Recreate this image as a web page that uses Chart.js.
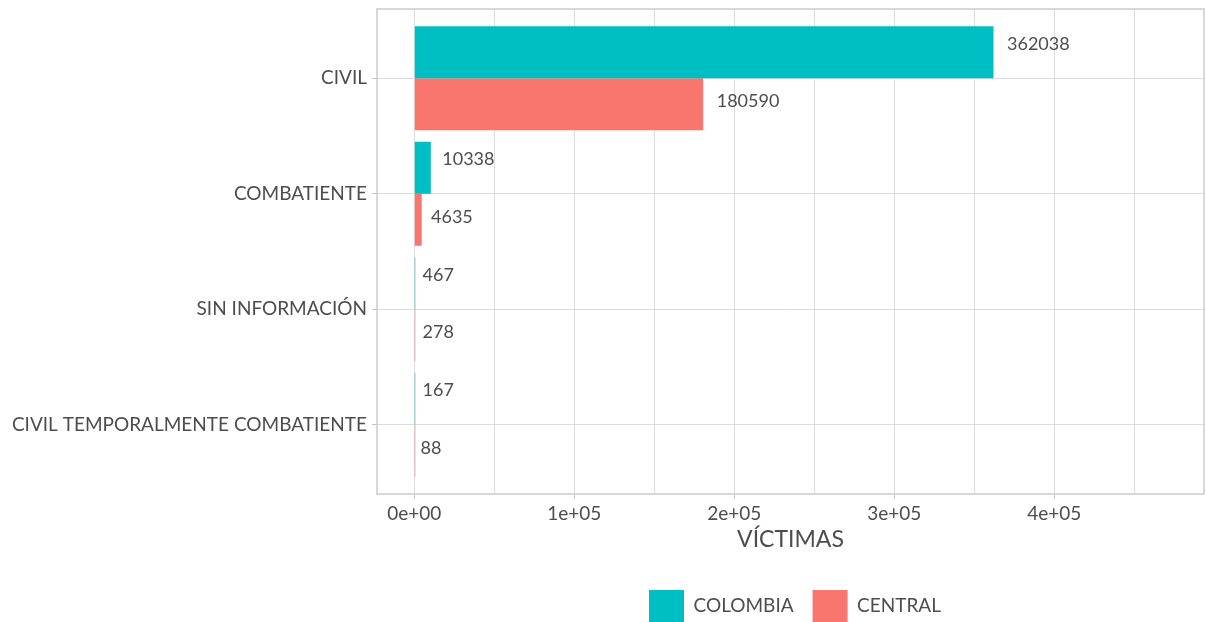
<!DOCTYPE html>
<html>
<head>
<meta charset="utf-8">
<script src="https://cdn.jsdelivr.net/npm/chart.js@4.4.1/dist/chart.umd.min.js"></script>
<style>
  html, body { margin: 0; padding: 0; background: #ffffff; overflow: hidden; }
  #wrap { width: 1206px; height: 622px; position: relative; }
</style>
</head>
<body>
<div id="wrap"><canvas id="c" width="1206" height="622"></canvas></div>
<script>
const categories = ['CIVIL', 'COMBATIENTE', 'SIN INFORMACIÓN', 'CIVIL TEMPORALMENTE COMBATIENTE'];
const seriesNames = ['COLOMBIA', 'CENTRAL'];
const colombia = [362038, 10338, 467, 167];
const central = [180590, 4635, 278, 88];
const xTickValues = [0, 50000, 100000, 150000, 200000, 250000, 300000, 350000, 400000, 450000];
const xTickLabels = ['0e+00', '', '1e+05', '', '2e+05', '', '3e+05', '', '4e+05', ''];
const xTitle = 'VÍCTIMAS';

const FONT = 'Lato';
const TEXT = '#4d4d4d';
const GRID = '#dcdcdc';
const BORDER = '#cfcfcf';

const toPoints = arr => arr.map((v, i) => ({ x: v, y: i }));

const panelBorder = {
  id: 'panelBorder',
  afterLayout(chart) {
    const lg = chart.legend;
    if (lg) {
      lg.left = chart.chartArea.left + 9;
      lg.right = chart.chartArea.right;
    }
  },
  afterDraw(chart) {
    const { ctx, chartArea: a } = chart;
    ctx.save();
    ctx.strokeStyle = BORDER;
    ctx.lineWidth = 1.6;
    ctx.strokeRect(a.left, a.top, a.right - a.left, a.bottom - a.top);
    ctx.restore();
  }
};

const valueLabels = {
  id: 'valueLabels',
  afterDatasetsDraw(chart) {
    const { ctx } = chart;
    const yScale = chart.scales.y;
    ctx.save();
    ctx.font = '18px ' + FONT;
    ctx.fillStyle = TEXT;
    ctx.textAlign = 'left';
    ctx.textBaseline = 'middle';
    chart.data.datasets.forEach((ds, di) => {
      const meta = chart.getDatasetMeta(di);
      meta.data.forEach((bar, i) => {
        const txt = String(ds.data[i].x);
        const w = ctx.measureText(txt).width;
        const yy = yScale.getPixelForValue(i + (di === 0 ? -0.25 : 0.25)) - 5.5;
        ctx.fillText(txt, bar.x + 0.2 * w + 1, yy);
      });
    });
    ctx.restore();
  }
};

new Chart(document.getElementById('c'), {
  type: 'bar',
  data: {
    datasets: [
      { label: seriesNames[0], data: toPoints(colombia), backgroundColor: '#00BFC4', borderWidth: 0, minBarLength: 1 },
      { label: seriesNames[1], data: toPoints(central), backgroundColor: '#F8766D', borderWidth: 0, minBarLength: 1 }
    ]
  },
  options: {
    indexAxis: 'y',
    responsive: false,
    animation: false,
    devicePixelRatio: 1,
    categoryPercentage: 0.9,
    barPercentage: 1,
    layout: { padding: { top: 9, right: 2, left: 0, bottom: -10 } },
    plugins: {
      tooltip: { enabled: false },
      legend: {
        position: 'bottom',
        align: 'center',
        labels: {
          boxWidth: 35,
          boxHeight: 32,
          padding: 19,
          color: TEXT,
          font: { family: FONT, size: 19 }
        }
      }
    },
    scales: {
      x: {
        type: 'linear',
        min: -23300,
        max: 493600,
        offset: false,
        afterBuildTicks(scale) { scale.ticks = xTickValues.map(v => ({ value: v })); },
        afterFit(scale) { scale.height = 77; scale.paddingLeft = 0; scale.paddingRight = 0; },
        ticks: {
          autoSkip: false,
          maxRotation: 0,
          padding: 3,
          color: TEXT,
          font: { family: FONT, size: 19 },
          callback: (v, i) => xTickLabels[i]
        },
        grid: {
          color: GRID,
          lineWidth: 1,
          drawTicks: true,
          tickLength: 5,
          tickColor: ctx => (ctx.tick && xTickLabels[ctx.index] ? '#c8c8c8' : 'rgba(0,0,0,0)'),
          tickWidth: 1
        },
        border: { display: false },
        title: {
          display: true,
          text: xTitle,
          color: TEXT,
          font: { family: FONT, size: 23 },
          padding: { top: 0, bottom: 18 }
        }
      },
      y: {
        type: 'linear',
        reverse: true,
        min: -0.6,
        max: 3.6,
        offset: false,
        afterBuildTicks(scale) { scale.ticks = categories.map((c, i) => ({ value: i })); },
        afterFit(scale) { scale.width = 377; scale.paddingTop = 0; scale.paddingBottom = 0; },
        ticks: {
          autoSkip: false,
          padding: 5,
          color: TEXT,
          font: { family: FONT, size: 19 },
          callback: (v) => categories[v]
        },
        grid: {
          color: GRID,
          lineWidth: 1,
          drawTicks: true,
          tickLength: 5,
          tickColor: '#c8c8c8',
          offset: false
        },
        border: { display: false }
      }
    }
  },
  plugins: [panelBorder, valueLabels]
});
</script>
</body>
</html>
